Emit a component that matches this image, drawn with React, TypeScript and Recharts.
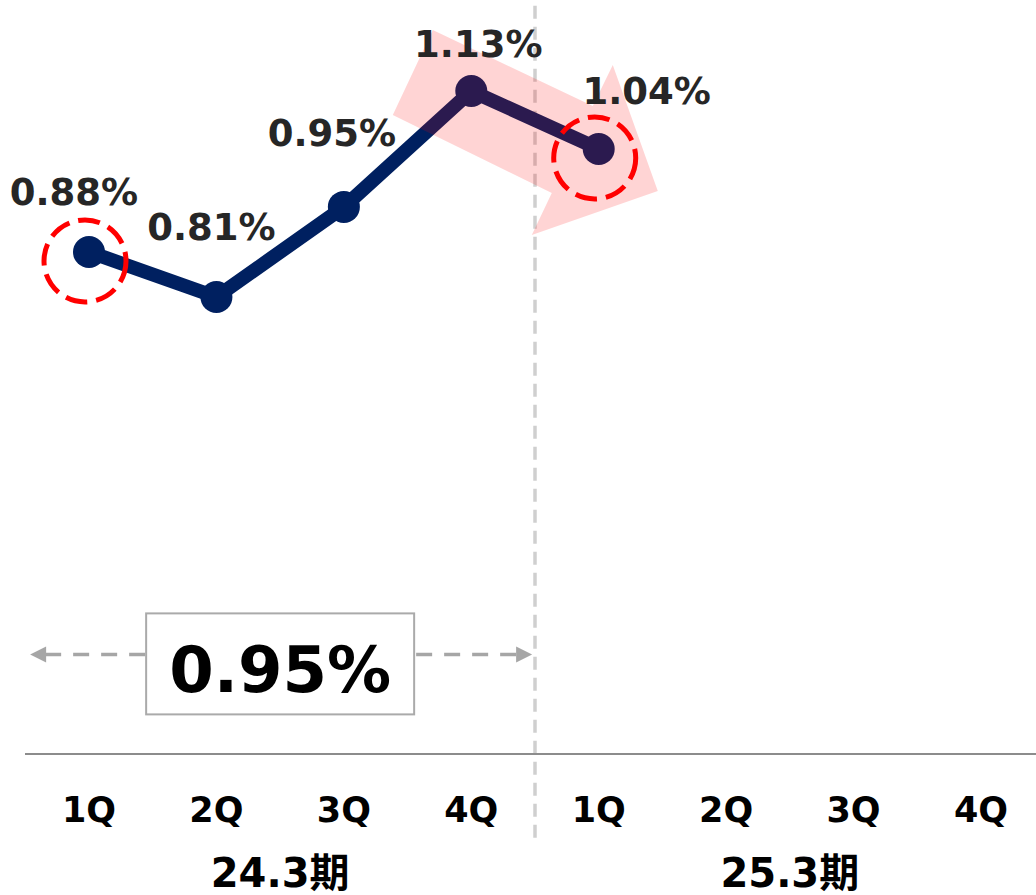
import React from "react";
import { LineChart, Line, XAxis, YAxis, LabelList, ReferenceLine, ReferenceDot } from "recharts";

// quarters on the x axis (two fiscal years)
const quarters = ["1Q", "2Q", "3Q", "4Q", "1Q", "2Q", "3Q", "4Q"];
// ratio per quarter, % (only 5 quarters reported so far)
const ratio: (number | null)[] = [0.88, 0.81, 0.95, 1.13, 1.04, null, null, null];
const periods = ["24.3期", "25.3期"];
const periodTicks = [1.5, 5.5];
const fyAverage = "0.95%";
// quarters that get the red dashed highlight
const highlighted = [0, 4];

const data = quarters.map((q, i) => ({ q, v: ratio[i] }));

const NAVY = "#002060";
const FONT = "'DejaVu Sans', 'Noto Sans CJK JP', sans-serif";

// label placement tweaks (dx, dy from the point, to baseline)
const labelNudge = [
  [-15, -47],
  [-5, -57],
  [-12, -61],
  [7, -34],
  [48, -45],
];

const renderLabel = (props: any) => {
  const { x, y, value, index } = props;
  if (value == null || x == null || y == null) return null;
  const [dx, dy] = labelNudge[index] || [0, -40];
  return (
    <text
      x={x + dx}
      y={y + dy}
      textAnchor="middle"
      fontFamily={FONT}
      fontWeight="bold"
      fontSize={37}
      fill="#262626"
    >
      {value.toFixed(2)}%
    </text>
  );
};

const renderDot = (props: any) => {
  const { cx, cy, index } = props;
  if (cx == null || cy == null || props.value == null) return <g key={`d${index}`} />;
  return (
    <g key={`d${index}`}>
      <circle cx={cx} cy={cy} r={16} fill={NAVY} />
      {highlighted.includes(index) && (
        <circle
          cx={cx - 4}
          cy={cy + 9}
          r={41}
          fill="none"
          stroke="#ff0000"
          strokeWidth={5}
          strokeDasharray="22 9"
        />
      )}
    </g>
  );
};

// translucent pink arrow pointing from the 4Q peak to the latest quarter
const renderArrow = (props: any) => {
  const { cx, cy, index } = props;
  if (index !== 3 || cx == null || cy == null) return <g key={`a${index}`} />;
  const pts = [
    [-38.5, -61],
    [121.5, 15],
    [141.5, -26],
    [186.5, 100],
    [60.5, 144],
    [80.5, 102],
    [-78.5, 24],
  ]
    .map(([dx, dy]) => `${cx + dx},${cy + dy}`)
    .join(" ");
  return <polygon key={`a${index}`} points={pts} fill="#ff0000" fillOpacity={0.17} />;
};

const renderAverage = (props: any) => {
  const { cx, cy } = props;
  const gray = "#a6a6a6";
  const ay = cy - 9.5;
  return (
    <g>
      <line x1={cx - 235} y1={ay} x2={cx - 134} y2={ay} stroke={gray} strokeWidth={3.5} strokeDasharray="16 12" />
      <polygon points={`${cx - 250},${ay} ${cx - 234},${ay - 8} ${cx - 234},${ay + 8}`} fill={gray} />
      <line x1={cx + 136} y1={ay} x2={cx + 236} y2={ay} stroke={gray} strokeWidth={3.5} strokeDasharray="16 12" />
      <polygon points={`${cx + 252},${ay} ${cx + 236},${ay - 8} ${cx + 236},${ay + 8}`} fill={gray} />
      <rect x={cx - 134} y={cy - 50.5} width={268} height={101} fill="#fff" stroke="#aaaaaa" strokeWidth={2} />
      <text x={cx} y={cy + 28.5} textAnchor="middle" fontFamily={FONT} fontWeight="bold" fontSize={64} fill="#000">
        {fyAverage}
      </text>
    </g>
  );
};

const QuarterTick = (props: any) => {
  const { x, y, payload } = props;
  return (
    <text x={x} y={y + 68} textAnchor="middle" fontFamily={FONT} fontWeight="bold" fontSize={35} fill="#000">
      {payload.value}
    </text>
  );
};

const PeriodTick = (props: any) => {
  const { x, y, index } = props;
  return (
    <text x={x} y={y + 63} textAnchor="middle" fontFamily={FONT} fontWeight="bold" fontSize={40} fill="#000">
      {periods[index]}
    </text>
  );
};

export default function App() {
  return (
    <div
      style={{
        position: "absolute",
        left: 0,
        top: 0,
        width: 1036,
        height: 895,
        overflow: "hidden",
        background: "#fff",
      }}
    >
      <LineChart width={1060} height={895} data={data} margin={{ top: 46, right: 15, bottom: 0, left: 25 }}>
        <XAxis
          dataKey="q"
          padding={{ left: 64, right: 64 }}
          height={70}
          axisLine={{ stroke: "#8c8c8c", strokeWidth: 2 }}
          tickLine={false}
          tickSize={0}
          tickMargin={0}
          interval={0}
          tick={<QuarterTick />}
        />
        <XAxis
          xAxisId="period"
          type="number"
          domain={[0, 7]}
          padding={{ left: 64, right: 64 }}
          ticks={periodTicks}
          height={71}
          axisLine={false}
          tickLine={false}
          tickSize={0}
          tickMargin={0}
          tick={<PeriodTick />}
        />
        <YAxis hide domain={[0.1, 1.2]} />
        <ReferenceLine
          xAxisId="period"
          segment={[
            { x: 3.5, y: -0.03 },
            { x: 3.5, y: 1.265 },
          ]}
          stroke="#cfcfcf"
          strokeWidth={3.5}
          strokeDasharray="13 8"
          ifOverflow="visible"
        />
        <ReferenceDot xAxisId="period" x={1.5} y={0.24} ifOverflow="visible" shape={renderAverage} />
        <Line
          dataKey="v"
          stroke={NAVY}
          strokeWidth={14}
          dot={renderDot}
          activeDot={false}
          isAnimationActive={false}
        >
          <LabelList dataKey="v" content={renderLabel} />
        </Line>
        <Line
          dataKey="v"
          stroke="none"
          dot={renderArrow}
          activeDot={false}
          legendType="none"
          isAnimationActive={false}
        />
      </LineChart>
    </div>
  );
}
